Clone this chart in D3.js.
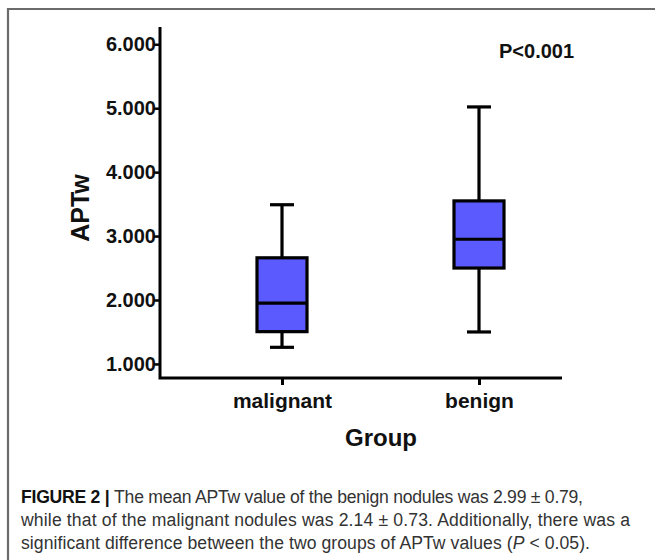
<!DOCTYPE html>
<html>
<head>
<meta charset="utf-8">
<script src="https://cdn.jsdelivr.net/npm/d3@7"></script>
<style>
  html, body { margin: 0; padding: 0; background: #fff; }
  svg { display: block; }
</style>
</head>
<body>
<svg id="chart" width="655" height="560"></svg>
<script>
// group names along the x axis
const groups = ['malignant', 'benign'];
// box plot statistics per group (whisker low, q1, median, q3, whisker high)
const whiskerLow = [1.26, 1.50];
const q1 = [1.505, 2.50];
const median = [1.95, 2.95];
const q3 = [2.66, 3.55];
const whiskerHigh = [3.49, 5.02];
// y tick values
const yTicks = [1, 2, 3, 4, 5, 6];
const captionLines = [
  [{ t: 'FIGURE 2 | ', b: true }, { t: 'The mean APTw value of the benign nodules was 2.99 \u00b1 0.79,' }],
  [{ t: 'while that of the malignant nodules was 2.14 \u00b1 0.73. Additionally, there was a' }],
  [{ t: 'significant difference between the two groups of APTw values (' }, { t: 'P', i: true }, { t: ' < 0.05).' }]
];
// widths the caption lines take in the reference
const captionWidths = [562, 609, 569];

const svg = d3.select('#chart');

// outer frame (right and bottom fall outside the picture)
svg.append('path')
  .attr('d', 'M8,560V9H655')
  .attr('fill', 'none')
  .attr('stroke', '#6b6b6b')
  .attr('stroke-width', 2.2);

const y = d3.scaleLinear().domain([0.78, 6.27]).range([378, 27]);
const x = d3.scalePoint().domain(groups).range([282, 479]);

const axisLeft = 160;
const axisRight = 562;
const axisBottom = 378;
const font = 'Arial, "Liberation Sans", Helvetica, sans-serif';

const g = svg.append('g');

// y axis
const yAxis = g.append('g')
  .attr('transform', `translate(${axisLeft},0)`)
  .call(d3.axisLeft(y).tickValues(yTicks).tickFormat(d3.format('.3f')).tickSize(6).tickSizeOuter(0));
yAxis.select('.domain').remove();
yAxis.selectAll('.tick line').attr('stroke', '#000').attr('stroke-width', 2.5);
yAxis.selectAll('.tick text')
  .attr('x', -4)
  .style('font-family', font)
  .style('font-size', '20px')
  .style('font-weight', 'bold')
  .attr('fill', '#111');

// x axis
const xAxis = g.append('g')
  .attr('transform', `translate(0,${axisBottom})`)
  .call(d3.axisBottom(x).tickSize(7).tickSizeOuter(0));
xAxis.select('.domain').remove();
xAxis.selectAll('.tick line').attr('stroke', '#000').attr('stroke-width', 3);
xAxis.selectAll('.tick text')
  .attr('y', 15)
  .attr('dy', '0.71em')
  .style('font-family', font)
  .style('font-size', '21px')
  .style('font-weight', 'bold')
  .attr('fill', '#111');

// axis lines
g.append('path')
  .attr('d', `M${axisLeft},${y.range()[1]}V${axisBottom}H${axisRight}`)
  .attr('fill', 'none')
  .attr('stroke', '#000')
  .attr('stroke-width', 3);

// boxes
const boxW = 50;
const capW = 24;
const data = groups.map((name, i) => ({
  name, lo: whiskerLow[i], q1: q1[i], med: median[i], q3: q3[i], hi: whiskerHigh[i]
}));

const box = g.selectAll('.box')
  .data(data)
  .join('g')
  .attr('class', 'box')
  .attr('stroke', '#000')
  .attr('stroke-width', 3.2);

box.append('line')
  .attr('x1', d => x(d.name)).attr('x2', d => x(d.name))
  .attr('y1', d => y(d.hi)).attr('y2', d => y(d.lo));

box.append('line')
  .attr('x1', d => x(d.name) - capW / 2).attr('x2', d => x(d.name) + capW / 2)
  .attr('y1', d => y(d.hi)).attr('y2', d => y(d.hi));

box.append('line')
  .attr('x1', d => x(d.name) - capW / 2).attr('x2', d => x(d.name) + capW / 2)
  .attr('y1', d => y(d.lo)).attr('y2', d => y(d.lo));

box.append('rect')
  .attr('x', d => x(d.name) - boxW / 2)
  .attr('width', boxW)
  .attr('y', d => y(d.q3))
  .attr('height', d => y(d.q1) - y(d.q3))
  .attr('fill', '#5a5aff');

box.append('line')
  .attr('x1', d => x(d.name) - boxW / 2).attr('x2', d => x(d.name) + boxW / 2)
  .attr('y1', d => y(d.med)).attr('y2', d => y(d.med));

// axis titles
g.append('text')
  .attr('transform', 'translate(89,208) rotate(-90)')
  .attr('text-anchor', 'middle')
  .style('font-family', font)
  .style('font-size', '25px')
  .style('font-weight', 'bold')
  .attr('fill', '#111')
  .text('APTw');

g.append('text')
  .attr('x', 381)
  .attr('y', 446)
  .attr('text-anchor', 'middle')
  .style('font-family', font)
  .style('font-size', '24px')
  .style('font-weight', 'bold')
  .attr('fill', '#111')
  .text('Group');

g.append('text')
  .attr('x', 499)
  .attr('y', 58)
  .style('font-family', font)
  .style('font-size', '20px')
  .style('font-weight', 'bold')
  .attr('fill', '#111')
  .text('P<0.001');

// caption, one text per line stretched to the reference width
captionLines.forEach((line, i) => {
  const text = svg.append('text')
    .attr('x', 21)
    .attr('y', 503 + i * 23)
    .attr('textLength', captionWidths[i])
    .attr('lengthAdjust', 'spacing')
    .style('font-family', '"Liberation Sans", Arial, sans-serif')
    .style('font-size', '17.6px')
    .attr('fill', '#333');
  line.forEach(part => {
    text.append('tspan')
      .attr('font-weight', part.b ? 'bold' : null)
      .attr('font-style', part.i ? 'italic' : null)
      .attr('fill', part.b ? '#111' : null)
      .text(part.t);
  });
});
</script>
</body>
</html>
